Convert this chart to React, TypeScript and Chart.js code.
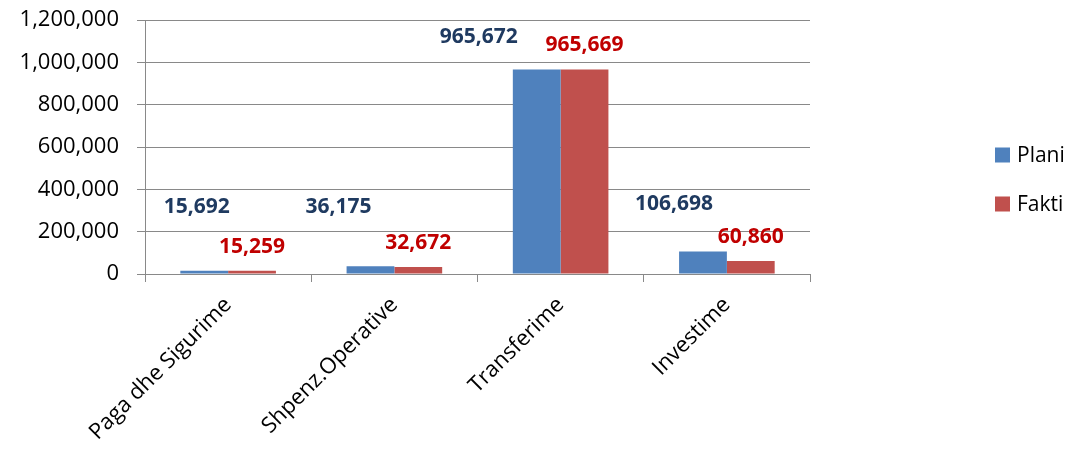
import React, { useEffect, useRef } from "react";
import { Chart, registerables } from "chart.js";

Chart.register(...registerables);

// ---- data ----
const categories = ["Paga dhe Sigurime", "Shpenz.Operative", "Transferime", "Investime"];
const seriesNames = ["Plani", "Fakti"];
const planiValues = [15692, 36175, 965672, 106698];
const faktiValues = [15259, 32672, 965669, 60860];
const yTickValues = [0, 200000, 400000, 600000, 800000, 1000000, 1200000];

// ---- styles ----
const FONT = "'Open Sans', sans-serif";
const PLANI_COLOR = "#4F81BD";
const FAKTI_COLOR = "#C0504D";
const PLANI_LABEL_COLOR = "#1F3A60";
const FAKTI_LABEL_COLOR = "#C00000";
const GRID_COLOR = "#898989";

// label offsets (pixels relative to bar top centre), per dataset per category
const labelOffsets: number[][][] = [
  [[-7.5, -65], [-32, -61], [-58, -34], [-29, -49]],
  [[0, -25], [0, -26], [0, -26], [0, -25.5]],
];
const labelColors = [PLANI_LABEL_COLOR, FAKTI_LABEL_COLOR];

const fmt = (v: number) => Number(v).toLocaleString("en-US");

const dataLabelPlugin = {
  id: "customDataLabels",
  afterDatasetsDraw(chart: any) {
    const ctx = chart.ctx;
    const size = 21;
    chart.data.datasets.forEach((ds: any, di: number) => {
      const meta = chart.getDatasetMeta(di);
      meta.data.forEach((bar: any, i: number) => {
        const off = labelOffsets[di][i];
        ctx.save();
        ctx.font = `bold ${size}px ${FONT}`;
        ctx.fillStyle = labelColors[di];
        ctx.textAlign = "center";
        ctx.textBaseline = "alphabetic";
        ctx.fillText(fmt(ds.data[i]), bar.x + off[0], bar.y + off[1] + size * 0.357);
        ctx.restore();
      });
    });
  },
};

const legendPlugin = {
  id: "customLegend",
  afterDraw(chart: any) {
    const ctx = chart.ctx;
    const size = 21;
    const centers = [155, 204];
    chart.data.datasets.forEach((ds: any, di: number) => {
      const cy = centers[di];
      ctx.save();
      ctx.fillStyle = ds.backgroundColor;
      ctx.fillRect(995, cy - 7.5, 15, 15);
      ctx.font = `${size}px ${FONT}`;
      ctx.fillStyle = "#000";
      ctx.textAlign = "left";
      ctx.textBaseline = "alphabetic";
      ctx.fillText(ds.label, 1017, cy + size * 0.357);
      ctx.restore();
    });
  },
};

export default function App() {
  const canvasRef = useRef<HTMLCanvasElement | null>(null);

  useEffect(() => {
    if (!canvasRef.current) return;
    const chart = new Chart(canvasRef.current, {
      type: "bar",
      data: {
        labels: categories,
        datasets: [
          {
            label: seriesNames[0],
            data: planiValues,
            backgroundColor: PLANI_COLOR,
            categoryPercentage: 0.575,
            barPercentage: 1.0,
          },
          {
            label: seriesNames[1],
            data: faktiValues,
            backgroundColor: FAKTI_COLOR,
            categoryPercentage: 0.575,
            barPercentage: 1.0,
          },
        ],
      },
      options: {
        responsive: true,
        maintainAspectRatio: false,
        animation: false,
        layout: { padding: { left: 0, right: 265, top: 20, bottom: 0 } },
        plugins: {
          legend: { display: false },
          tooltip: { enabled: false },
        },
        scales: {
          x: {
            grid: {
              offset: true,
              drawOnChartArea: false,
              drawTicks: true,
              tickLength: 8,
              color: GRID_COLOR,
            },
            border: { color: GRID_COLOR },
            ticks: {
              minRotation: 45,
              maxRotation: 45,
              color: "#000",
              font: { family: FONT, size: 22 },
              padding: 10,
            },
            afterFit: (scale: any) => {
              scale.height = 179;
            },
          },
          y: {
            min: 0,
            max: 1200000,
            grid: { color: GRID_COLOR, tickLength: 8, drawTicks: true },
            border: { color: GRID_COLOR },
            ticks: {
              color: "#000",
              font: { family: FONT, size: 22 },
              padding: 18,
              callback: (v: any) => fmt(v),
            },
            afterBuildTicks: (scale: any) => {
              scale.ticks = yTickValues.map((v) => ({ value: v }));
            },
            afterFit: (scale: any) => {
              scale.width = 145;
              scale.paddingTop = 12;
              scale.paddingBottom = 12;
            },
          },
        },
      },
      plugins: [dataLabelPlugin, legendPlugin],
    });
    return () => chart.destroy();
  }, []);

  return (
    <div style={{ position: "fixed", left: 0, top: 0, width: 1075, height: 453, background: "#fff" }}>
      <canvas ref={canvasRef} />
    </div>
  );
}
